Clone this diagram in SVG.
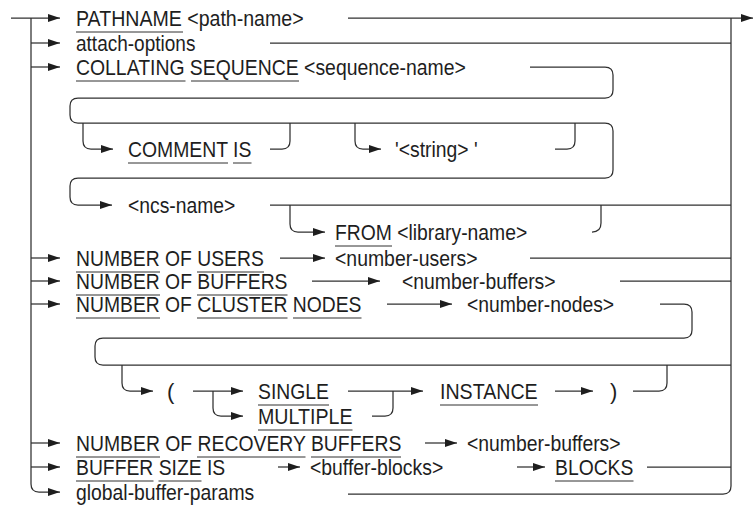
<svg xmlns="http://www.w3.org/2000/svg" width="755" height="514" viewBox="0 0 755 514">
<style>
.c{fill:none;stroke:#303030;stroke-width:1.25}
.a{marker-end:url(#ah)}
.t{font-family:"Liberation Sans",Arial,sans-serif;font-size:22px;fill:#1e1e1e}
.u{stroke:#303030;stroke-width:1}
</style>
<defs>
<marker id="ah" viewBox="0 0 12 8" refX="12" refY="4" markerWidth="12" markerHeight="8" markerUnits="userSpaceOnUse" orient="auto">
<path d="M0 0L12 4L0 8Z" fill="#1e1e1e"/>
</marker>
</defs>
<rect width="755" height="514" fill="#fff"/>
<g id="connectors">
<path class="c a" d="M11 18H60"/>
<path class="c a" d="M31 18V484Q31 492 39 492H60"/>
<path class="c a" d="M31 43H60"/>
<path class="c a" d="M31 67H60"/>
<path class="c a" d="M31 258H60"/>
<path class="c a" d="M31 281H60"/>
<path class="c a" d="M31 304H60"/>
<path class="c a" d="M31 443H60"/>
<path class="c a" d="M31 467H60"/>
<path class="c a" d="M348 18H753"/>
<path class="c" d="M731 18V486Q731 494 723 494H348"/>
<path class="c" d="M270 43H731"/>
<path class="c a" d="M530 67H605Q613 67 613 75V90Q613 98 605 98H78Q70 98 70 106V115Q70 123 78 123H605Q613 123 613 131V170Q613 178 605 178H78Q70 178 70 186V197Q70 205 78 205H112"/>
<path class="c a" d="M83 123V141Q83 149 91 149H113"/>
<path class="c" d="M270 149H282Q290 149 290 141V123"/>
<path class="c a" d="M355 123V141Q355 149 363 149H381"/>
<path class="c" d="M555 149H567Q575 149 575 141V123"/>
<path class="c" d="M270 205H731"/>
<path class="c a" d="M290 205V224Q290 232 298 232H325"/>
<path class="c" d="M592 232Q601 232 601 223V205"/>
<path class="c a" d="M280 258H325"/>
<path class="c" d="M530 258H731"/>
<path class="c a" d="M312 281H380"/>
<path class="c" d="M620 281H731"/>
<path class="c a" d="M387 304H452"/>
<path class="c" d="M660 304H684Q692 304 692 312V330Q692 338 684 338H103Q95 338 95 346V357Q95 365 103 365H731"/>
<path class="c a" d="M122 365V383Q122 391 130 391H153"/>
<path class="c a" d="M193 391H243"/>
<path class="c a" d="M213 391V408Q213 416 221 416H243"/>
<path class="c a" d="M348 391H423"/>
<path class="c" d="M372 416H385Q393 416 393 408V391"/>
<path class="c a" d="M555 391H593"/>
<path class="c" d="M633 391H659Q667 391 667 383V365"/>
<path class="c a" d="M425 443H457"/>
<path class="c a" d="M278 467H300"/>
<path class="c a" d="M517 467H545"/>
<path class="c" d="M647 467H731"/>
</g>
<g id="pathname"><text class="t" x="76" y="26" textLength="227.6" lengthAdjust="spacingAndGlyphs">PATHNAME &lt;path-name&gt;</text><path class="u" d="M76 32H183"/></g>
<g id="attach-options"><text class="t" x="76" y="51" textLength="119.4" lengthAdjust="spacingAndGlyphs">attach-options</text></g>
<g id="collating"><text class="t" x="76" y="75" textLength="389.8" lengthAdjust="spacingAndGlyphs">COLLATING SEQUENCE &lt;sequence-name&gt;</text><path class="u" d="M76 81H185.5M191 81H299"/></g>
<g id="comment-is"><text class="t" x="128" y="157" textLength="123.4" lengthAdjust="spacingAndGlyphs">COMMENT IS</text><path class="u" d="M128 163H228M233 163H251.5"/></g>
<g id="string"><text class="t" x="395" y="157" textLength="82.6" lengthAdjust="spacingAndGlyphs">'&lt;string&gt; '</text></g>
<g id="ncs-name"><text class="t" x="128" y="213" textLength="107.4" lengthAdjust="spacingAndGlyphs">&lt;ncs-name&gt;</text></g>
<g id="from"><text class="t" x="335" y="240" textLength="192.2" lengthAdjust="spacingAndGlyphs">FROM &lt;library-name&gt;</text><path class="u" d="M335 246H392"/></g>
<g id="number-of-users"><text class="t" x="76" y="266" textLength="187.8" lengthAdjust="spacingAndGlyphs">NUMBER OF USERS</text><path class="u" d="M76 272H160M197 272H264"/></g>
<g id="number-users"><text class="t" x="335" y="266" textLength="142.5" lengthAdjust="spacingAndGlyphs">&lt;number-users&gt;</text></g>
<g id="number-of-buffers"><text class="t" x="76" y="289" textLength="211.5" lengthAdjust="spacingAndGlyphs">NUMBER OF BUFFERS</text><path class="u" d="M76 295H160M197 295H287.5"/></g>
<g id="number-buffers-1"><text class="t" x="402" y="289" textLength="153.6" lengthAdjust="spacingAndGlyphs">&lt;number-buffers&gt;</text></g>
<g id="number-of-cluster-nodes"><text class="t" x="76" y="312" textLength="285.5" lengthAdjust="spacingAndGlyphs">NUMBER OF CLUSTER NODES</text><path class="u" d="M76 318H160M197 318H287.5M293 318H361.5"/></g>
<g id="number-nodes"><text class="t" x="467" y="312" textLength="147.1" lengthAdjust="spacingAndGlyphs">&lt;number-nodes&gt;</text></g>
<g id="open-paren"><text class="t" x="167" y="399">(</text></g>
<g id="single"><text class="t" x="258" y="399" textLength="70.9" lengthAdjust="spacingAndGlyphs">SINGLE</text><path class="u" d="M258 405H329"/></g>
<g id="multiple"><text class="t" x="258" y="424" textLength="94.5" lengthAdjust="spacingAndGlyphs">MULTIPLE</text><path class="u" d="M258 430H352.5"/></g>
<g id="instance"><text class="t" x="440" y="399" textLength="97.7" lengthAdjust="spacingAndGlyphs">INSTANCE</text><path class="u" d="M440 405H538"/></g>
<g id="close-paren"><text class="t" x="610" y="399">)</text></g>
<g id="number-of-recovery-buffers"><text class="t" x="76" y="451" textLength="325.3" lengthAdjust="spacingAndGlyphs">NUMBER OF RECOVERY BUFFERS</text><path class="u" d="M76 457H160M197 457H305.5M311 457H401"/></g>
<g id="number-buffers-2"><text class="t" x="467" y="451" textLength="153.6" lengthAdjust="spacingAndGlyphs">&lt;number-buffers&gt;</text></g>
<g id="buffer-size-is"><text class="t" x="76" y="475" textLength="149.2" lengthAdjust="spacingAndGlyphs">BUFFER SIZE IS</text><path class="u" d="M76 481H153.5M158.5 481H201.5"/></g>
<g id="buffer-blocks"><text class="t" x="310" y="475" textLength="133.2" lengthAdjust="spacingAndGlyphs">&lt;buffer-blocks&gt;</text></g>
<g id="blocks"><text class="t" x="555" y="475" textLength="78.4" lengthAdjust="spacingAndGlyphs">BLOCKS</text><path class="u" d="M555 481H633.5"/></g>
<g id="global-buffer-params"><text class="t" x="76" y="500" textLength="178.2" lengthAdjust="spacingAndGlyphs">global-buffer-params</text></g>
</svg>
